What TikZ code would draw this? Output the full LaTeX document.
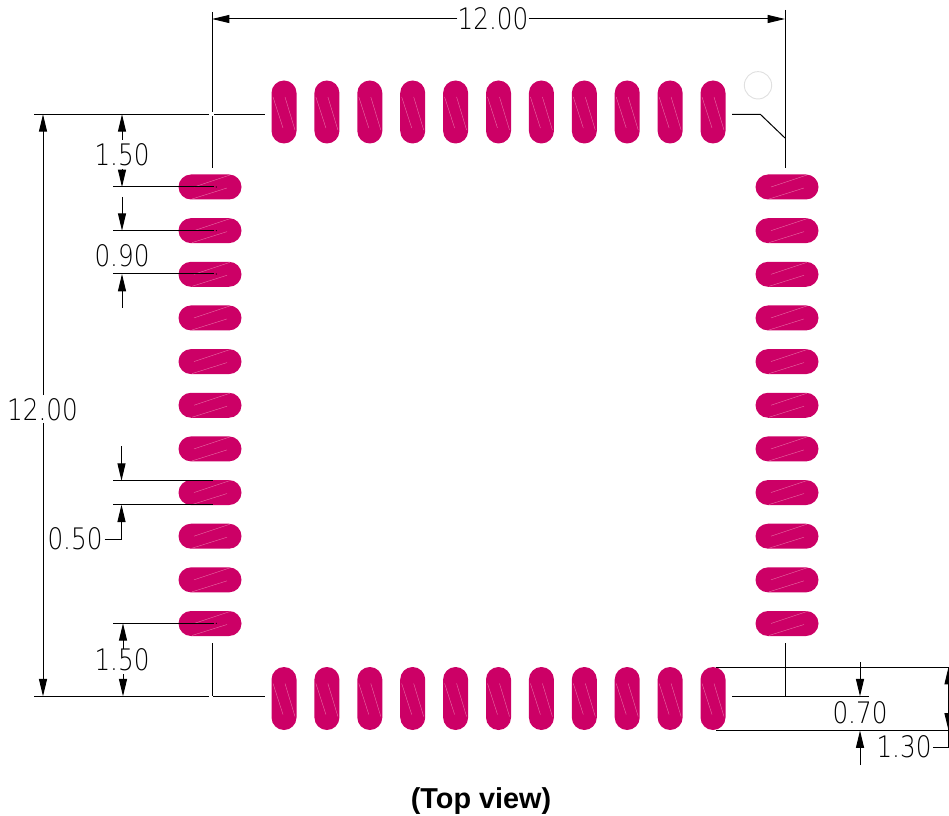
\documentclass[tikz,border=0pt]{standalone}
\usepackage{fontspec}
\setmainfont{Liberation Sans}
\newfontfamily\dimfont{DejaVu Sans ExtraLight}
\usepackage{tikz}
\usetikzlibrary{arrows.meta}
\usetikzlibrary{shapes.misc}
\definecolor{padcol}{RGB}{204,0,102}
\definecolor{streakcol}{RGB}{232,110,165}
\tikzset{
	hpad/.style={rounded rectangle, fill=padcol, minimum width=47.25pt, minimum height=18.75pt, inner sep=0pt},
	vpad/.style={rounded rectangle, rotate=90, fill=padcol, minimum width=47.25pt, minimum height=18.75pt, inner sep=0pt},
	streak/.style={streakcol, line width=0.3pt},
	dimline/.style={line width=0.75pt, black},
	dimarrow/.style={dimline, -{Triangle[length=13pt,width=6pt]}},
	dimtext/.style={inner sep=0pt, font=\dimfont\fontsize{18.5}{18.5}\selectfont, yscale=1.2, text=black}
}
\begin{document}
\begin{tikzpicture}[x=0.75pt,y=-0.75pt]
\useasboundingbox (0,0) rectangle (949,816);
% side pads
\foreach \i in {0,...,10}
{
	\node [hpad] (padl-\i) at (210,187+43.65*\i) {};
	\node [hpad] (padr-\i) at (787,187+43.65*\i) {};
	\draw [streak] (194,187+43.65*\i) -- (230,175+43.65*\i) (192,199+43.65*\i) -- (227,188+43.65*\i);
	\draw [streak] (771,187+43.65*\i) -- (807,175+43.65*\i) (769,199+43.65*\i) -- (804,188+43.65*\i);
}
% top and bottom pads
\foreach \i in {0,...,10}
{
	\node [vpad] (padt-\i) at (284+42.9*\i,112) {};
	\node [vpad] (padb-\i) at (284+42.9*\i,698.5) {};
	\draw [streak] (273+42.9*\i,97) -- (283+42.9*\i,128) (285+42.9*\i,97) -- (295+42.9*\i,130);
	\draw [streak] (273+42.9*\i,683.5) -- (283+42.9*\i,714.5) (285+42.9*\i,683.5) -- (295+42.9*\i,716.5);
}
% pin one mark
\node [circle, draw=black!12, line width=0.7pt, minimum size=20.5pt, inner sep=0pt] (pinone) at (758,85.3) {};
% labels
\node [dimtext] (toplen) at (493,19) {12.00};
\node [dimtext] (leftlen) at (42.5,410) {12.00};
\node [dimtext] (margtop) at (122,155) {1.50};
\node [dimtext] (pitchtop) at (122,256) {0.90};
\node [dimtext] (padwid) at (75,539) {0.50};
\node [dimtext] (margbot) at (122,660) {1.50};
\node [dimtext] (padin) at (860,713) {0.70};
\node [dimtext] (padlen) at (904,747) {1.30};
\node [inner sep=0pt, font=\bfseries\fontsize{21.6}{21.6}\selectfont] (caption) at (481,801) {(Top view)};
% outline
\draw [dimline] (212,12) -- (212,112) (212,116) -- (212,168);
\draw [dimline] (785,10) -- (785,168);
\draw [dimline] (732,114.5) -- (760.5,114.5) -- (785,138);
\draw [dimline] (34,114.3) -- (209,114.3) (214,114.3) -- (265,114.3);
\draw [dimline] (34,696.3) -- (209,696.3) (213,696.3) -- (265,696.3);
\draw [dimline] (212,643) -- (212,696.3);
\draw [dimline] (732,696.3) -- (869,696.3) (785,643) -- (785,696.3);
\draw [dimline] (716,667) -- (949,667) (716,730.5) -- (949,730.5);
% pitch lines
\foreach \y in {187,230.7,274,623.3}
{
	\draw [dimline] (113,\y) -- (213.5,\y);
	\fill (216.3,\y) circle (0.45pt);
}
\foreach \y in {480.7,504.7}
	\draw [dimline] (113,\y) -- (213,\y);
% long dimensions
\draw [dimarrow] (toplen.west) -- (212,19);
\draw [dimarrow] (toplen.east) -- (785,19);
\draw [dimarrow] (43,395) -- (43,114.3);
\draw [dimarrow] (43,423) -- (43,696.3);
% small dimensions
\draw [dimarrow] (122,140) -- (122,114.3);
\draw [dimarrow] (122,169) -- (122,187);
\draw [dimarrow] (122,197) -- (122,230.7);
\draw [dimarrow] (122,308) -- (122,274);
\draw [dimarrow] (121.5,446) -- (121.5,480.7);
\draw [dimarrow] (padwid.east) ++(1.5pt,0) -- (121.5,539) -- (121.5,504.7);
\draw [dimarrow] (123,649) -- (123,623.3);
\draw [dimarrow] (123,674) -- (123,696.3);
\draw [dimarrow] (860,662) -- (860,696.3);
\draw [dimarrow] (860,765) -- (860,730.5);
\draw [dimline] (padlen.east) ++(1pt,0) -- (948.5,747) -- (948.5,667);
\draw [dimarrow] (948.5,700) -- (948.5,667);
\draw [dimarrow] (948.5,700) -- (948.5,730.5);
\end{tikzpicture}
\end{document}
